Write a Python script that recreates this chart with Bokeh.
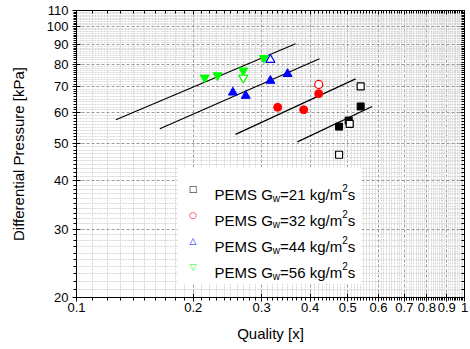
from bokeh.plotting import figure
from bokeh.models import FixedTicker, LogAxis, CustomJSTickFormatter, Label, BoxAnnotation
from bokeh.embed import file_html
from bokeh.resources import INLINE

# ---------------- data ----------------
x_ticks = [0.1, 0.2, 0.3, 0.4, 0.5, 0.6, 0.7, 0.8, 0.9, 1.0]
y_ticks = [20, 30, 40, 50, 60, 70, 80, 90, 100, 110]

g21_open_x = [0.540, 0.506, 0.475]
g21_open_y = [70.1, 56.1, 46.7]
g21_fill_x = [0.540, 0.503, 0.475]
g21_fill_y = [62.2, 57.2, 55.2]

g32_open_x = [0.421]
g32_open_y = [70.9]
g32_fill_x = [0.330, 0.385, 0.421]
g32_fill_y = [61.9, 61.0, 67.1]

g44_open_x = [0.316]
g44_open_y = [82.1]
g44_fill_x = [0.253, 0.273, 0.316, 0.350]
g44_fill_y = [67.6, 66.3, 72.5, 75.5]

g56_open_x = [0.269]
g56_open_y = [73.8]
g56_fill_x = [0.214, 0.231, 0.269, 0.304]
g56_fill_y = [73.8, 74.8, 77.0, 82.9]

fit_x = [[0.1263, 0.367], [0.164, 0.423], [0.257, 0.524], [0.371, 0.578]]
fit_y = [[57.5, 90.3], [54.5, 82.6], [52.7, 73.3], [50.4, 62.2]]

legend_flux = ["21", "32", "44", "56"]
legend_colors = ["black", "#ff0000", "#0000ff", "#00ff00"]
legend_symbols = ["\u25a1", "\u25cb", "\u25b3", "\u25bd"]

# ---------------- figure ----------------
FONT = "Liberation Sans"
p = figure(width=470, height=349, x_axis_type="log", y_axis_type="log",
           x_range=(0.1, 1.0), y_range=(20, 110),
           output_backend="svg", toolbar_location=None,
           min_border_left=76, min_border_right=6, min_border_top=10, min_border_bottom=52)
p.background_fill_color = "white"
p.border_fill_color = "white"
p.outline_line_color = "black"

x_minor = [round(0.1 + 0.01 * i, 2) for i in range(91) if i % 10 != 0]
y_minor = [v for v in range(20, 111) if v % 10 != 0]
xt = FixedTicker(ticks=x_ticks, minor_ticks=x_minor)
yt = FixedTicker(ticks=y_ticks, minor_ticks=y_minor)
fmt = CustomJSTickFormatter(code="return String(Number(tick.toFixed(3)));")
blank = CustomJSTickFormatter(code="return '';")

for ax, tk in ((p.xaxis[0], xt), (p.yaxis[0], yt)):
    ax.ticker = tk
    ax.formatter = fmt
    ax.major_label_text_font = FONT
    ax.major_label_text_font_size = "13px"
    ax.major_label_text_color = "black"
    ax.axis_label_text_font = FONT
    ax.axis_label_text_font_size = "15px"
    ax.axis_label_text_font_style = "normal"
    ax.axis_label_text_color = "black"
    ax.axis_line_color = "black"
    ax.major_tick_line_color = "black"
    ax.minor_tick_line_color = "black"
    ax.major_tick_in = 4
    ax.major_tick_out = 4
    ax.minor_tick_in = 0
    ax.minor_tick_out = 3

p.xaxis.axis_label = "Quality [x]"
p.yaxis.axis_label = "Differential Pressure [kPa]"
p.xaxis.major_label_standoff = 1
p.xaxis.axis_label_standoff = 10
p.yaxis.major_label_standoff = 4
p.yaxis.axis_label_standoff = 17

top = LogAxis(ticker=xt, formatter=blank, major_tick_in=4, major_tick_out=0,
              minor_tick_in=3, minor_tick_out=0, major_label_standoff=0,
              axis_line_color="black", major_label_text_font_size="1px")
right = LogAxis(ticker=yt, formatter=blank, major_tick_in=4, major_tick_out=0,
                minor_tick_in=3, minor_tick_out=0, major_label_standoff=0,
                axis_line_color="black", major_label_text_font_size="1px")
p.add_layout(top, "above")
p.add_layout(right, "right")

for g in (p.xgrid[0], p.ygrid[0]):
    g.grid_line_color = "#9a9a9a"
    g.grid_line_dash = "3 2"
    g.grid_line_width = 1
    g.minor_grid_line_color = "#d6d6d6"
    g.minor_grid_line_dash = "2 1"
    g.minor_grid_line_width = 1

# fitted lines
p.multi_line(xs=fit_x, ys=fit_y, line_color="black", line_width=1.2)

# data points
p.scatter(g21_fill_x, g21_fill_y, marker="square", size=7, fill_color="black", line_color="black")
p.scatter(g21_open_x, g21_open_y, marker="square", size=7, fill_color="white", line_color="black", line_width=1.2)
p.scatter(g32_fill_x, g32_fill_y, marker="circle", size=8, fill_color="#ff0000", line_color="#ff0000")
p.scatter(g32_open_x, g32_open_y, marker="circle", size=8, fill_color="white", line_color="#ff0000", line_width=1.2)
p.scatter(g44_fill_x, g44_fill_y, marker="triangle", size=9, fill_color="#0000ff", line_color="#0000ff")
p.scatter(g44_open_x, g44_open_y, marker="triangle", size=9, fill_color="white", line_color="#0000ff", line_width=1.2)
p.scatter(g56_fill_x, g56_fill_y, marker="inverted_triangle", size=9, fill_color="#00ff00", line_color="#00ff00")
p.scatter(g56_open_x, g56_open_y, marker="inverted_triangle", size=9, fill_color="white", line_color="#00ff00", line_width=1.2)

# ---------------- manual legend (screen units, relative to frame) ----------------
p.add_layout(BoxAnnotation(left=101, right=285, bottom=14, top=130,
                           left_units="screen", right_units="screen",
                           bottom_units="screen", top_units="screen",
                           fill_color="white", fill_alpha=1.0, line_color=None))

W = {"P": 667, "E": 667, "M": 833, "S": 667, " ": 278, "G": 778, "=": 584,
     "k": 500, "g": 556, "/": 278, "m": 833, "s": 500, "w": 722}
def tw(s, size):
    return sum(W.get(c, 556) for c in s) * size / 1000.0

big, small = 15, 10
x0 = 138
for i, (flux, col, sym) in enumerate(zip(legend_flux, legend_colors, legend_symbols)):
    base = 103 - 26 * i
    p.add_layout(Label(x=116.5, y=base + 5.5, x_units="screen", y_units="screen", text=sym,
                       text_font="DejaVu Sans", text_font_size="9px", text_color=col,
                       text_align="center", text_baseline="middle"))
    parts = [("PEMS G", big, 0), ("w", small, -4), ("=" + flux + " kg/m", big, 0),
             ("2", small, 7), ("s", big, 0)]
    cx = x0
    for txt, fs, dy in parts:
        p.add_layout(Label(x=cx, y=base + dy, x_units="screen", y_units="screen", text=txt,
                           text_font=FONT, text_font_size=f"{fs}px", text_color="black",
                           text_align="left", text_baseline="alphabetic"))
        cx += tw(txt, fs)

open("out.html", "w").write(file_html(p, INLINE))
